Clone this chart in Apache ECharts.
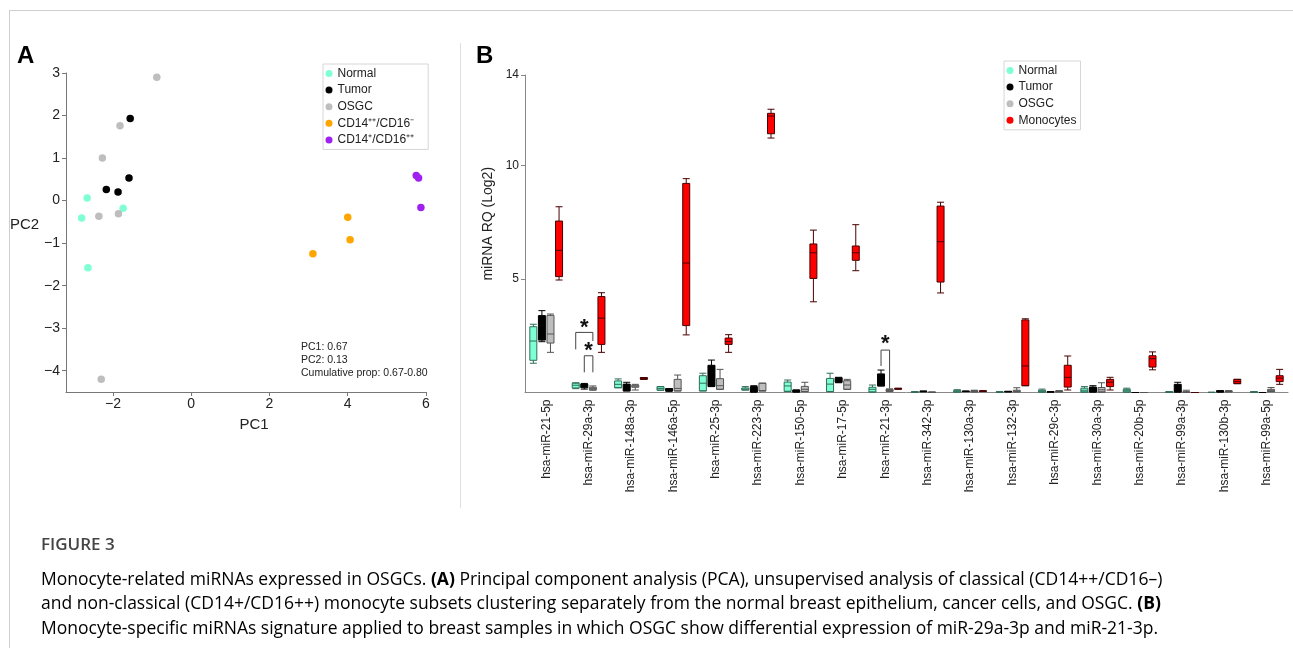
<!DOCTYPE html>
<html><head><meta charset="utf-8">
<script src="https://cdn.jsdelivr.net/npm/echarts@6/dist/echarts.min.js"></script>
<style>html,body{margin:0;padding:0;background:#fff}#c{width:1293px;height:648px}</style>
</head><body><div id="c"></div>
<script>
// ---------- Panel A : PCA ----------
const pcaNormal = [[-2.66,0.06],[-2.80,-0.41],[-1.74,-0.18],[-2.64,-1.58]];
const pcaTumor = [[-1.56,1.93],[-2.17,0.26],[-1.87,0.20],[-1.59,0.53]];
const pcaOSGC = [[-0.88,2.90],[-1.82,1.76],[-2.27,1.00],[-2.36,-0.37],[-1.86,-0.31],[-2.30,-4.20]];
const pcaClassical = [[4.00,-0.39],[4.06,-0.92],[3.11,-1.25]];
const pcaNonClassical = [[5.75,0.59],[5.81,0.53],[5.87,-0.16]];
const pcaXTicks = [-2,0,2,4,6];
const pcaYTicks = [-4,-3,-2,-1,0,1,2,3];
const pcaNames = ['Normal','Tumor','OSGC','CD14\u207A\u207A/CD16\u207B','CD14\u207A/CD16\u207A\u207A'];
const pcaNote = ['PC1: 0.67','PC2: 0.13','Cumulative prop: 0.67-0.80'];

// ---------- Panel B : miRNA boxplots ----------
const mirnas = ['hsa-miR-21-5p','hsa-miR-29a-3p','hsa-miR-148a-3p','hsa-miR-146a-5p','hsa-miR-25-3p','hsa-miR-223-3p','hsa-miR-150-5p','hsa-miR-17-5p','hsa-miR-21-3p','hsa-miR-342-3p','hsa-miR-130a-3p','hsa-miR-132-3p','hsa-miR-29c-3p','hsa-miR-30a-3p','hsa-miR-20b-5p','hsa-miR-99a-3p','hsa-miR-130b-3p','hsa-miR-99a-5p'];
// [min, Q1, median, Q3, max]
const boxNormal = [
 [1.29,1.42,2.27,2.90,3.01],[0.17,0.20,0.32,0.41,0.43],[0.21,0.21,0.36,0.51,0.60],[0.10,0.10,0.18,0.26,0.26],
 [0.07,0.07,0.41,0.74,0.85],[0.11,0.11,0.15,0.20,0.26],[0.05,0.05,0.29,0.46,0.55],[0.04,0.04,0.37,0.62,0.85],
 [0.02,0.02,0.14,0.23,0.33],[0.01,0.01,0.02,0.03,0.03],[0.02,0.02,0.06,0.10,0.12],[0.01,0.01,0.02,0.03,0.03],
 [0.02,0.02,0.06,0.10,0.15],[0.02,0.02,0.10,0.19,0.26],[0.02,0.02,0.08,0.14,0.19],[0.01,0.01,0.02,0.03,0.03],
 [0.00,0.00,0.00,0.01,0.01],[0.01,0.01,0.02,0.03,0.03]];
const boxTumor = [
 [2.24,2.31,2.43,3.39,3.61],[0.15,0.21,0.30,0.37,0.40],[0.07,0.07,0.20,0.37,0.45],[0.05,0.07,0.12,0.17,0.17],
 [0.26,0.27,0.50,1.20,1.43],[0.02,0.02,0.10,0.26,0.30],[0.02,0.02,0.06,0.11,0.11],[0.43,0.45,0.55,0.65,0.67],
 [0.29,0.29,0.50,0.82,0.99],[0.03,0.04,0.05,0.06,0.06],[0.04,0.04,0.05,0.06,0.06],[0.03,0.03,0.04,0.05,0.05],
 [0.02,0.02,0.03,0.04,0.04],[0.02,0.02,0.10,0.24,0.30],[0,0,0,0,0],[0.02,0.02,0.10,0.36,0.45],
 [0.02,0.02,0.05,0.08,0.08],[0,0,0,0,0]];
const boxOSGC = [
 [1.77,2.18,2.58,3.40,3.46],[0.10,0.12,0.17,0.23,0.29],[0.11,0.23,0.28,0.32,0.36],[0.07,0.07,0.18,0.58,0.77],
 [0.14,0.14,0.30,0.61,1.02],[0.07,0.07,0.08,0.41,0.41],[0.04,0.04,0.14,0.27,0.45],[0.14,0.14,0.33,0.52,0.58],
 [0.05,0.05,0.09,0.14,0.16],[0.00,0.00,0.01,0.02,0.02],[0.03,0.03,0.05,0.08,0.10],[0.03,0.03,0.06,0.10,0.21],
 [0.03,0.03,0.05,0.07,0.08],[0.02,0.02,0.12,0.22,0.43],[0,0,0,0,0],[0.01,0.01,0.02,0.03,0.10],
 [0.03,0.03,0.05,0.07,0.08],[0.04,0.04,0.08,0.14,0.22]];
const boxMonocytes = [
 [4.96,5.11,6.27,7.56,8.19],[1.77,2.12,3.28,4.23,4.40],[0.58,0.58,0.62,0.66,0.66],[2.54,2.95,5.71,9.22,9.43],
 [1.77,2.12,2.24,2.40,2.55],[11.22,11.41,12.19,12.31,12.49],[4.00,5.03,6.16,6.55,7.16],[5.37,5.83,6.16,6.46,7.40],
 [0.14,0.15,0.17,0.18,0.19],[4.39,4.87,6.65,8.22,8.39],[0.04,0.05,0.06,0.07,0.08],[0.30,0.30,1.17,3.20,3.25],
 [0.11,0.24,0.67,1.20,1.61],[0.11,0.26,0.46,0.58,0.67],[1.00,1.12,1.49,1.62,1.79],[0,0,0,0,0],
 [0.39,0.39,0.48,0.58,0.58],[0.36,0.48,0.63,0.74,1.02]];
const boxGroups = ['Normal','Tumor','OSGC','Monocytes'];
const rqTicks = [5,10,14];
// significance brackets: [category index, from group, to group, top, left leg end, right leg end, star level]
const brackets = [[1,0,2,2.65,1.90,2.27,2.84],[1,1,2,1.62,0.89,0.89,1.82],[8,1,2,1.87,1.17,0.19,2.14]];

const captionTitle = 'FIGURE 3';
const captionLines = [
 [['n','Monocyte-related miRNAs expressed in OSGCs. '],['b','(A)'],['n',' Principal component analysis (PCA), unsupervised analysis of classical (CD14++/CD16\u2013)']],
 [['n','and non-classical (CD14+/CD16++) monocyte subsets clustering separately from the normal breast epithelium, cancer cells, and OSGC. '],['b','(B)']],
 [['n','Monocyte-specific miRNAs signature applied to breast samples in which OSGC show differential expression of miR-29a-3p and miR-21-3p.']]
];

const FONT = '"Liberation Sans", Arial, sans-serif';
const CAPFONT = '"Open Sans", "Noto Sans", sans-serif';
const minus = v => (v < 0 ? '\u2212' + Math.abs(v) : String(v));

const pcaColors = ['#7fffd4','#000000','#bebebe','#ffa500','#a020f0'];
const boxFill = ['#7fffd4','#000000','#bebebe','#ff0000'];
const boxBorder = ['#2f6e5a','#000000','#555555','#4a0000'];

const chart = echarts.init(document.getElementById('c'), null, {renderer:'canvas'});

const pcaSets = [pcaNormal,pcaTumor,pcaOSGC,pcaClassical,pcaNonClassical];
const series = pcaSets.map((d,i) => ({
  type:'scatter', name:pcaNames[i], xAxisIndex:0, yAxisIndex:0, data:d,
  symbolSize:7.5, itemStyle:{color:pcaColors[i], opacity:1}, silent:true, animation:false
}));
const boxSets = [boxNormal,boxTumor,boxOSGC,boxMonocytes];
boxSets.forEach((d,i) => series.push({
  type:'boxplot', name:boxGroups[i], xAxisIndex:1, yAxisIndex:1, data:d, boxWidth:[7,7],
  itemStyle:{color:boxFill[i], borderColor:boxBorder[i], borderWidth:1}, silent:true, animation:false
}));
series.push({
  type:'custom', name:'sig', xAxisIndex:1, yAxisIndex:1, data:brackets, silent:true, animation:false,
  encode:{x:0, y:3},
  renderItem:(params, api) => {
    const cat = api.value(0), g1 = api.value(1), g2 = api.value(2);
    const bw = api.size([1,0])[0];
    const avail = bw*0.8-2, gap = avail/4*0.3, w = (avail-gap*3)/4, base = w/2-avail/2;
    const off = g => base + g*(gap+w);
    const cx = api.coord([cat,0])[0];
    const x1 = cx+off(g1), x2 = cx+off(g2);
    const yT = api.coord([cat,api.value(3)])[1];
    const yL = api.coord([cat,api.value(4)])[1];
    const yR = api.coord([cat,api.value(5)])[1];
    const yS = api.coord([cat,api.value(6)])[1];
    return {type:'group', children:[
      {type:'polyline', shape:{points:[[x1,yL],[x1,yT],[x2,yT],[x2,yR]]}, style:{stroke:'#444', fill:null, lineWidth:1}},
      {type:'text', style:{text:'*', x:(x1+x2)/2, y:yS, align:'center', verticalAlign:'middle', font:'bold 22px '+FONT, fill:'#111'}}
    ]};
  }
});

const legendCommon = {
  orient:'vertical', icon:'circle', itemWidth:7, itemHeight:7, itemGap:3.6,
  borderColor:'#d6d6d6', borderWidth:1, selectedMode:false,
  textStyle:{fontSize:12, color:'#222', fontFamily:FONT, lineHeight:13}
};

const graphics = [
  {type:'line', shape:{x1:9, y1:10.5, x2:1293, y2:10.5}, style:{stroke:'#cfcfcf', lineWidth:1}, silent:true},
  {type:'line', shape:{x1:9.5, y1:10, x2:9.5, y2:648}, style:{stroke:'#cfcfcf', lineWidth:1}, silent:true},
  {type:'line', shape:{x1:460.5, y1:43, x2:460.5, y2:508}, style:{stroke:'#dedede', lineWidth:1}, silent:true},
  {type:'text', left:17, top:44, style:{text:'A', font:'bold 24px '+FONT, fill:'#000'}},
  {type:'text', left:476, top:44, style:{text:'B', font:'bold 24px '+FONT, fill:'#000'}},
  {type:'text', left:41, top:537, style:{text:captionTitle, font:'600 17px '+CAPFONT, fill:'#444'}}
];
pcaNote.forEach((t,i) => graphics.push({type:'text', left:301, top:342+i*12.8, style:{text:t, font:'10.5px '+FONT, fill:'#222'}}));
captionLines.forEach((parts,i) => graphics.push({
  type:'text', left:41, top:571+i*24.5,
  style:{text:parts.map(p => '{'+p[0]+'|'+p[1]+'}').join(''), rich:{
    n:{fontSize:17.5, fontFamily:CAPFONT, color:'#555'},
    b:{fontSize:17.5, fontFamily:CAPFONT, fontWeight:'bold', color:'#333'}
  }}
}));

chart.setOption({
  animation:false,
  backgroundColor:'#fff',
  textStyle:{fontFamily:FONT},
  grid:[
    {left:66, top:73, width:360, height:319},
    {left:525, top:75, width:763, height:317.5}
  ],
  xAxis:[
    {gridIndex:0, type:'value', min:-3.2, max:6, splitLine:{show:false},
     axisLine:{onZero:false, lineStyle:{color:'#777'}}, axisTick:{length:4, lineStyle:{color:'#777'}, customValues:pcaXTicks},
     axisLabel:{customValues:pcaXTicks, formatter:minus, fontSize:14, color:'#222', margin:5},
     name:'PC1', nameLocation:'middle', nameGap:25, nameTextStyle:{fontSize:15, color:'#222', padding:[0,0,0,16]}},
    {gridIndex:1, type:'category', data:mirnas, boundaryGap:true,
     axisLine:{onZero:false, lineStyle:{color:'#888'}}, axisTick:{show:false},
     axisLabel:{rotate:90, interval:0, fontSize:12, color:'#222', margin:7}}
  ],
  yAxis:[
    {gridIndex:0, type:'value', min:-4.5, max:3, splitLine:{show:false},
     axisLine:{show:true, onZero:false, lineStyle:{color:'#777'}}, axisTick:{show:true, length:4, lineStyle:{color:'#777'}, customValues:pcaYTicks},
     axisLabel:{customValues:pcaYTicks, formatter:minus, fontSize:14, color:'#222', margin:6},
     name:'PC2', nameLocation:'middle', nameRotate:0, nameGap:23, nameTextStyle:{fontSize:15, color:'#222', verticalAlign:'bottom'}},
    {gridIndex:1, type:'value', min:0, max:14, splitLine:{show:false},
     axisLine:{show:true, onZero:false, lineStyle:{color:'#888'}}, axisTick:{show:true, length:4, lineStyle:{color:'#888'}, customValues:rqTicks},
     axisLabel:{customValues:rqTicks, fontSize:12, color:'#222', margin:6},
     name:'miRNA RQ (Log2)', nameLocation:'middle', nameGap:27, nameTextStyle:{fontSize:14, color:'#222', padding:[0,0,0,20]}}
  ],
  legend:[
    Object.assign({}, legendCommon, {left:323, top:64, padding:[3,14,3,2.5],
      data:pcaNames.map((n,i) => ({name:n, itemStyle:{color:pcaColors[i], borderWidth:0}}))}),
    Object.assign({}, legendCommon, {left:1004, top:61, padding:[3,4,3,2.5],
      data:boxGroups.map((n,i) => ({name:n, itemStyle:{color:boxFill[i], borderWidth:0}}))})
  ],
  graphic:graphics,
  series:series
});
</script></body></html>
